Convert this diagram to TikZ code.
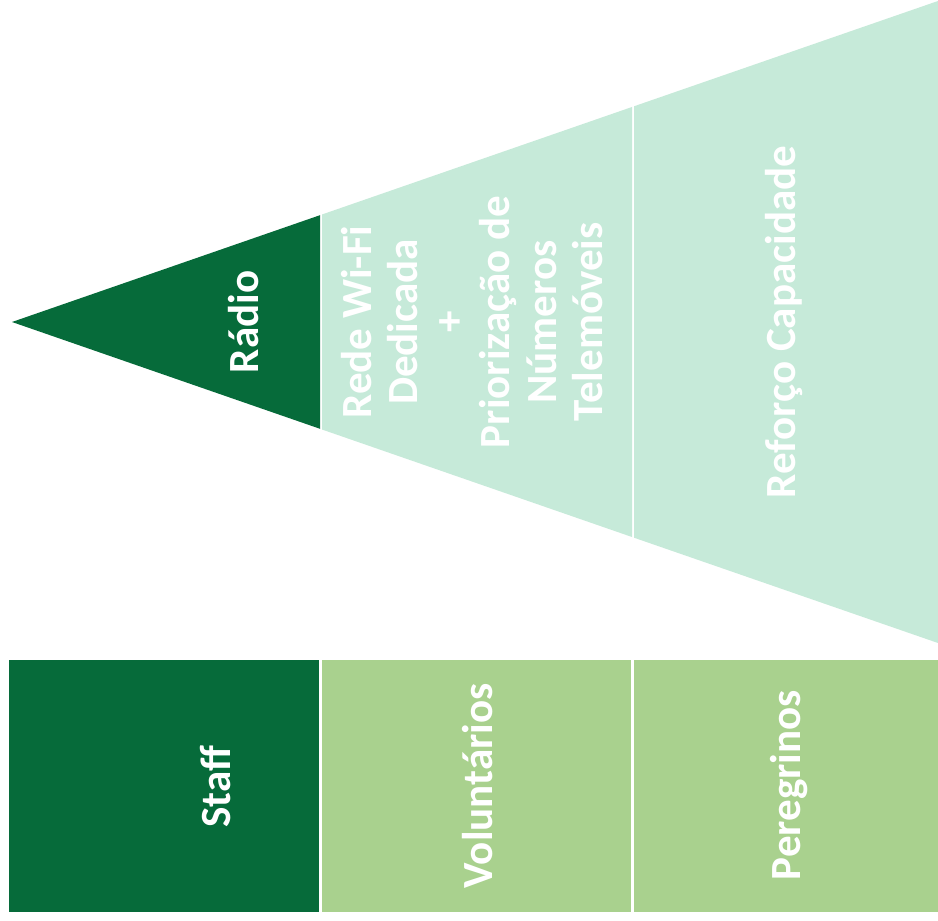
\documentclass[tikz,border=0pt]{standalone}
\usepackage{fontspec}
\setmainfont{Carlito}
\usepackage{tikz}
\usetikzlibrary{positioning}
\definecolor{darkleaf}{RGB}{6,107,58}
\definecolor{mint}{RGB}{198,234,217}
\definecolor{leaf}{RGB}{169,209,142}
\begin{document}
\begin{tikzpicture}[scale=0.2]
\tikzstyle{every node}+=[inner sep=0pt]
\tikzstyle{lbl}=[text=white, rotate=90, align=center, font=\bfseries\fontsize{24.5}{26.2}\selectfont]
\useasboundingbox (0,0) rectangle (93.8,-92.1);
\fill [white] (0,0) rectangle (93.8,-92.1);
% funnel
\fill [darkleaf] (1.2,-32.2) -- (32,-21.52) -- (32,-42.88) -- cycle;
\fill [mint] (32.2,-21.45) -- (63.2,-10.7) -- (63.2,-53.7) -- (32.2,-42.95) -- cycle;
\fill [mint] (63.4,-10.63) -- (93.8,-0.1) -- (93.8,-64.3) -- (63.4,-53.77) -- cycle;
\draw (24.4,-32.2) node [lbl] (radio) {Rádio};
\draw (47.2,-32.2) node [lbl] (wifi) {Rede Wi-Fi\\Dedicada\\+\\Priorização de\\Números\\Telemóveis};
\draw (78.4,-32.2) node [lbl] (reforco) {Reforço Capacidade};
% groups
\fill [darkleaf] (0.9,-66) rectangle (31.9,-91.2);
\fill [leaf] (32.2,-66) rectangle (63.1,-91.2);
\fill [leaf] (63.4,-66) rectangle (93.8,-91.2);
\draw (21.6,-78.7) node [lbl] (staff) {Staff};
\draw (47.8,-78.6) node [lbl] (volunt) {Voluntários};
\draw (78.9,-78.5) node [lbl] (peregr) {Peregrinos};
\end{tikzpicture}
\end{document}
